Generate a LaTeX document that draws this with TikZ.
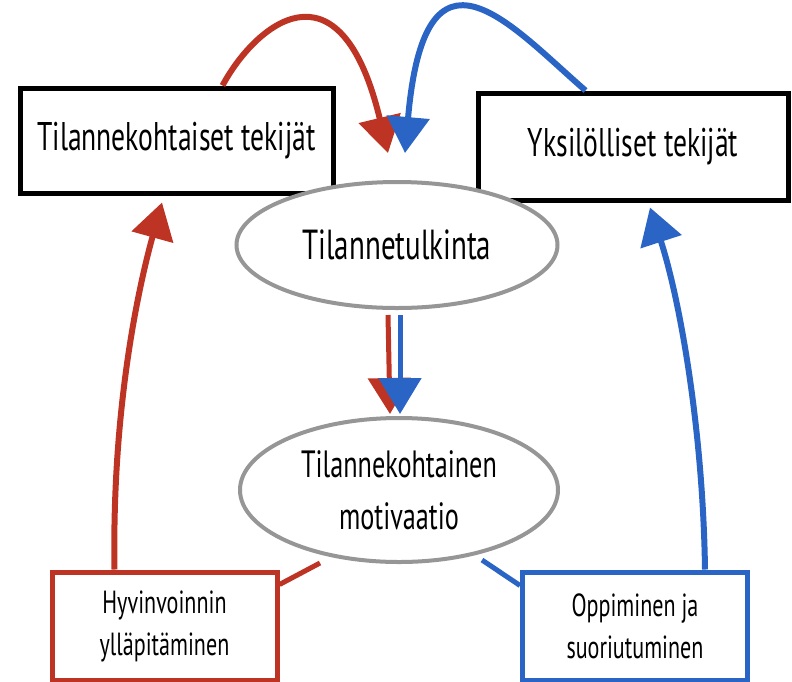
\documentclass[tikz,border=0pt]{standalone}
\usepackage{fontspec}
\newfontfamily\hand[FakeStretch=0.69]{PT Sans}
\usetikzlibrary{arrows.meta,shapes.geometric,calc}
\definecolor{cred}{RGB}{190,52,36}
\definecolor{cblue}{RGB}{42,100,196}
\definecolor{cgray}{RGB}{150,150,150}
\begin{document}
\begin{tikzpicture}[x=1pt,y=-1pt,
  bigbox/.style={rectangle,draw=black,line width=5pt,fill=white,inner sep=0pt,align=center,
    font=\hand\fontsize{40}{46}\selectfont},
  smallbox/.style={rectangle,line width=5pt,fill=white,inner sep=0pt,align=center,
    minimum width=225pt,minimum height=108pt,font=\hand\fontsize{32}{42}\selectfont},
  oval/.style={ellipse,draw=cgray,line width=4pt,fill=white,inner sep=0pt,align=center},
  redline/.style={draw=cred,line width=6pt},
  blueline/.style={draw=cblue,line width=6pt},
  bighead/.style={-{Triangle[width=42pt,length=36pt]}}
]
\useasboundingbox (0,0) rectangle (792,681);

\node[bigbox,minimum width=313pt,minimum height=105pt] (lt) at (176.5,140.5) {Tilannekohtaiset tekijät};
\node[bigbox,minimum width=310pt,minimum height=107pt] (rt) at (633,146.5) {Yksilölliset tekijät};
\node[oval,minimum width=321pt,minimum height=126pt,font=\hand\fontsize{42}{48}\selectfont] (e1) at (397,245) {Tilannetulkinta};
\node[oval,minimum width=318pt,minimum height=144pt,font=\hand\fontsize{38}{52}\selectfont] (e2) at (399,490) {Tilannekohtainen\\motivaatio};
\node[smallbox,draw=cred] (lb) at (164.5,626) {Hyvinvoinnin\\ylläpitäminen};
\node[smallbox,draw=cblue] (rb) at (635,626) {Oppiminen ja\\suoriutuminen};

\coordinate (rl) at (320,563);
\coordinate (bl) at (482,560);

% top arcs
\draw[redline,bighead] ([xshift=-113pt]lt.north east) .. controls (255,25) and (340,-47) .. ([xshift=-9pt,yshift=27pt]e1.north);
\draw[blueline,bighead] ([xshift=110pt]rt.north west) .. controls (510,25) and (425,-76) .. ([xshift=8pt,yshift=27pt]e1.north);

% vertical arrows
\draw[draw=cred,line width=5pt,bighead] ([xshift=-9pt,yshift=-5pt]e1.south) -- ([xshift=-9pt,yshift=2pt]e2.north);
\draw[draw=cblue,line width=5pt,bighead] ([xshift=3pt,yshift=-5pt]e1.south) -- ([xshift=1pt,yshift=2pt]e2.north);

% side connectors
\draw[redline,bighead] ([xshift=65pt]lb.north west) .. controls (112,420) and (135,300) .. ([xshift=-14.5pt,yshift=-7pt]lt.south);
\draw[blueline,bighead] ([xshift=-45pt]rb.north east) .. controls (703,430) and (680,300) .. ([xshift=17pt,yshift=-5pt]rt.south);

% short links
\draw[draw=cred,line width=5pt] ([yshift=-15pt]lb.north east) -- (rl);
\draw[draw=cblue,line width=5pt] (bl) -- ([yshift=-16pt]rb.north west);
\end{tikzpicture}
\end{document}
